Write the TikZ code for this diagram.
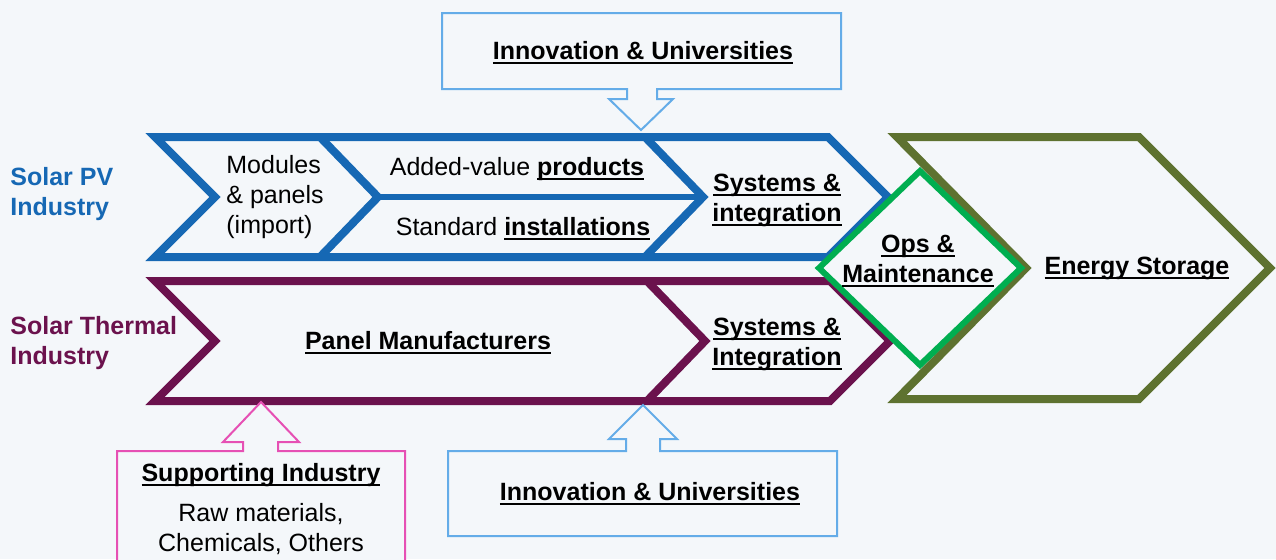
\documentclass[tikz,border=0pt]{standalone}
\usepackage{fontspec}
\setmainfont{Liberation Sans}
\usetikzlibrary{positioning}
\definecolor{bg}{RGB}{244,247,250}
\definecolor{pvblue}{RGB}{22,104,180}
\definecolor{thpurple}{RGB}{107,18,77}
\definecolor{olive}{RGB}{94,114,48}
\definecolor{opsgreen}{RGB}{0,174,80}
\definecolor{inoblue}{RGB}{100,172,232}
\definecolor{suppink}{RGB}{230,80,180}
\newcommand{\ulb}[1]{\setbox0=\hbox{#1}\rlap{\rule[-2.4pt]{\wd0}{1pt}}\box0}
\tikzset{
  lbl/.style={font=\fontsize{12.5}{15}\selectfont, align=center, inner sep=0pt},
  hd/.style={lbl, font=\fontsize{12.5}{15}\selectfont\bfseries},
  chev/.style={line width=4pt},
  callout/.style={line width=1pt, fill=bg}
}

\begin{document}
\begin{tikzpicture}[x=0.5pt,y=-0.5pt]
            \fill[bg] (0,0) rectangle (1276,559);
            \useasboundingbox (0,0) rectangle (1276,559);
            \draw[chev, pvblue] (155,137) -- (828,137) -- (888,197) -- (828,257) -- (155,257) -- (215,197) -- cycle;
            \draw[chev, pvblue] (320,137) -- (378,197) -- (320,257);
            \draw[chev, pvblue] (645,137) -- (703,197) -- (645,257);
            \draw[pvblue, line width=3pt] (378,197) -- (703,197);
            \draw[chev, thpurple] (155,281) -- (830,281) -- (890,341) -- (830,401) -- (155,401) -- (215,341) -- cycle;
            \draw[chev, thpurple] (647,281) -- (705,341) -- (647,401);
            \draw[chev, olive] (897,137) -- (1139,137) -- (1270,268) -- (1139,399) -- (897,399) -- (1026,268) -- cycle;
            \draw[draw=opsgreen, line width=3pt, fill=bg] (920,171) -- (1021,268) -- (920,365) -- (819,268) -- cycle;
            \draw[callout, draw=inoblue] (442,13) -- (841,13) -- (841,89) -- (657,89) -- (657,99) -- (673,99) -- (641,130) -- (609,99) -- (627,99) -- (627,89) -- (442,89) -- cycle;
            \draw[callout, draw=inoblue] (448,451) -- (626,451) -- (626,439) -- (609,439) -- (643,405) -- (677,439) -- (660,439) -- (660,451) -- (837,451) -- (837,536) -- (448,536) -- cycle;
            \draw[callout, draw=suppink] (117,575) -- (117,451) -- (243,451) -- (243,442) -- (223,442) -- (261,402) -- (299,442) -- (278,442) -- (278,451) -- (405,451) -- (405,575) -- cycle;
            \node[hd, pvblue, align=left, anchor=west] (pv) at (10,194) {Solar PV\\Industry};
            \node[hd, thpurple, align=left, anchor=west] (th) at (10,343) {Solar Thermal\\Industry};
            \node[lbl, align=left, anchor=west] (mod) at (226,197) {Modules\\\& panels\\(import)};
            \node[lbl] (add) at (517,169) {Added-value \textbf{\ulb{products}}};
            \node[lbl] (std) at (523,229) {Standard \textbf{\ulb{installations}}};
            \node[hd] (sysPV) at (777,200) {\ulb{Systems \&}\\\ulb{integration}};
            \node[hd] (ops) at (918,261) {\ulb{Ops \&}\\\ulb{Maintenance}};
            \node[hd] (store) at (1137,268) {\ulb{Energy Storage}};
            \node[hd] (panel) at (428,343) {\ulb{Panel Manufacturers}};
            \node[hd] (sysTh) at (777,344) {\ulb{Systems \&}\\\ulb{Integration}};
            \node[hd] (inoTop) at (643,53) {\ulb{Innovation \& Universities}};
            \node[hd] (inoBot) at (650,494) {\ulb{Innovation \& Universities}};
            \node[hd] (supT) at (261,475) {\ulb{Supporting Industry}};
            \node[lbl] (supL) at (261,529) {Raw materials,\\Chemicals, Others};
        \end{tikzpicture}
\end{document}
